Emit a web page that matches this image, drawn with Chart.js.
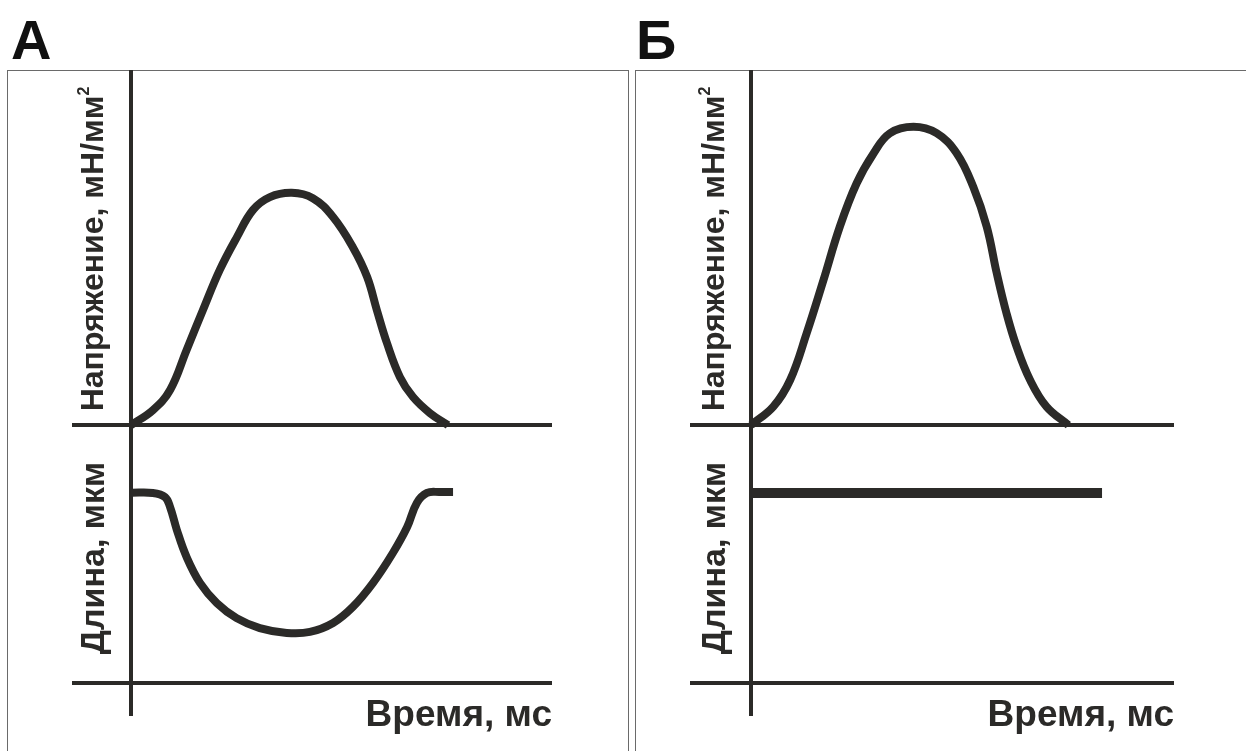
<!DOCTYPE html>
<html lang="ru">
<head>
<meta charset="UTF-8">
<title>Напряжение и длина</title>
<script src="https://cdn.jsdelivr.net/npm/chart.js"></script>
<style>
    html, body {
        margin: 0;
        padding: 0;
        background: #ffffff;
        width: 1246px;
        height: 751px;
        overflow: hidden;
        font-family: "Liberation Sans", Arial, sans-serif;
        color: #2b2a28;
    }
    .panel-letter {
        position: absolute;
        font-size: 56px;
        font-weight: bold;
        color: #111;
        line-height: 1;
    }
    .frame {
        position: absolute;
        border: 1.5px solid #6a6a6a;
        box-sizing: border-box;
    }
    canvas {
        position: absolute;
    }
    .ylabel {
        position: absolute;
        font-weight: bold;
        font-size: 32px;
        white-space: nowrap;
        transform: translate(-50%, -50%) rotate(-90deg);
        line-height: 1;
    }
    .ylabel sup {
        font-size: 0.5em;
        vertical-align: 0.9em;
    }
    .xlabel {
        position: absolute;
        font-weight: bold;
        font-size: 37px;
        white-space: nowrap;
        line-height: 1;
        transform: translateX(-100%);
    }
</style>
</head>
<body>
    <div class="panel-letter" style="left:11px; top:12px;">А</div>
    <div class="panel-letter" style="left:636px; top:12px;">Б</div>

    <div class="frame" style="left:7px; top:70px; width:622px; height:700px;"></div>
    <div class="frame" style="left:635px; top:70px; width:630px; height:700px;"></div>

    <!-- панель А -->
    <canvas id="stressA" width="480" height="370" style="left:72px; top:70px;"></canvas>
    <canvas id="lengthA" width="480" height="276" style="left:72px; top:440px;"></canvas>
    <div class="ylabel" style="left:92px; top:249px;">Напряжение, мН/мм<sup>2</sup></div>
    <div class="ylabel" style="left:92px; top:558px; font-size:34px;">Длина, мкм</div>
    <div class="xlabel" style="left:552px; top:695px;">Время, мс</div>

    <!-- панель Б -->
    <canvas id="stressB" width="484" height="370" style="left:690px; top:70px;"></canvas>
    <canvas id="lengthB" width="484" height="276" style="left:690px; top:440px;"></canvas>
    <div class="ylabel" style="left:713px; top:249px;">Напряжение, мН/мм<sup>2</sup></div>
    <div class="ylabel" style="left:713px; top:558px; font-size:34px;">Длина, мкм</div>
    <div class="xlabel" style="left:1174px; top:695px;">Время, мс</div>

<script>
    // значения (условные единицы)
    const timeStressA = [0, 5.2, 9.3, 13.2, 17.1, 21.1, 25.2, 29.0, 33.0, 38.2, 43.2, 48.0, 52.7, 56.1, 58.4, 60.8, 63.9, 67.0, 71.0, 75.3];
    const stressA     = [0, 4.2, 9.9, 21.1, 32.4, 43.7, 53.0, 60.6, 64.2, 65.4, 63.9, 58.6, 50.1, 41.7, 32.4, 23.1, 13.5, 7.9, 3.4, 0];

    const timeLengthA = [0, 5.2, 8.1, 9.3, 10.9, 13.2, 16.4, 20.4, 25.1, 30.6, 37.0, 42.5, 48.0, 52.7, 57.5, 62.2, 65.6, 67.9, 70.3, 73.4, 76.5];
    const lengthA     = [78.3, 78.2, 76.5, 72.4, 63.0, 51.9, 41.2, 32.9, 26.7, 22.6, 20.6, 21.0, 24.7, 31.3, 41.2, 53.5, 64.2, 74.1, 78.2, 78.6, 78.6];

    const timeStressB = [0, 5.3, 9.3, 13.2, 17.2, 21.1, 25.1, 29.1, 33.0, 38.6, 44.1, 48.9, 52.8, 56.0, 58.4, 60.7, 63.1, 66.3, 70.2, 75.4];
    const stressB     = [0, 5.2, 12.7, 25.8, 40.8, 55.9, 68.1, 76.5, 82.2, 84.0, 82.2, 76.5, 67.1, 55.9, 42.7, 31.5, 22.1, 12.7, 5.2, 0];

    const timeLengthB = [0, 83.4];
    const lengthB     = [78.2, 78.2];

    const INK = '#2b2a28';

    function drawPlot(id, xs, ys, xRange, yRange, lineWidth, tension) {
        const points = xs.map((x, i) => ({ x: x, y: ys[i] }));
        const axis = (range, pos) => ({
            type: 'linear',
            min: range[0],
            max: range[1],
            position: pos,
            grid: { display: false, drawTicks: false },
            ticks: { display: false },
            border: { display: true, color: INK, width: 4 }
        });
        return new Chart(document.getElementById(id), {
            type: 'line',
            data: {
                datasets: [{
                    data: points,
                    borderColor: INK,
                    borderWidth: lineWidth,
                    borderCapStyle: 'butt',
                    borderJoinStyle: 'round',
                    pointRadius: 0,
                    fill: false,
                    tension: tension
                }]
            },
            options: {
                responsive: false,
                animation: false,
                events: [],
                layout: { padding: 0 },
                plugins: { legend: { display: false }, tooltip: { enabled: false } },
                scales: {
                    x: axis(xRange, { y: 0 }),
                    y: axis(yRange, { x: 0 })
                }
            }
        });
    }

    drawPlot('stressA', timeStressA, stressA, [-14, 100], [-4.2, 100], 8, 0.4);
    drawPlot('lengthA', timeLengthA, lengthA, [-14, 100], [-13.6, 100], 8, 0.4);
    drawPlot('stressB', timeStressB, stressB, [-14.5, 100.5], [-4.2, 100], 8, 0.4);
    drawPlot('lengthB', timeLengthB, lengthB, [-14.5, 100.5], [-13.6, 100], 10, 0);
</script>
</body>
</html>
